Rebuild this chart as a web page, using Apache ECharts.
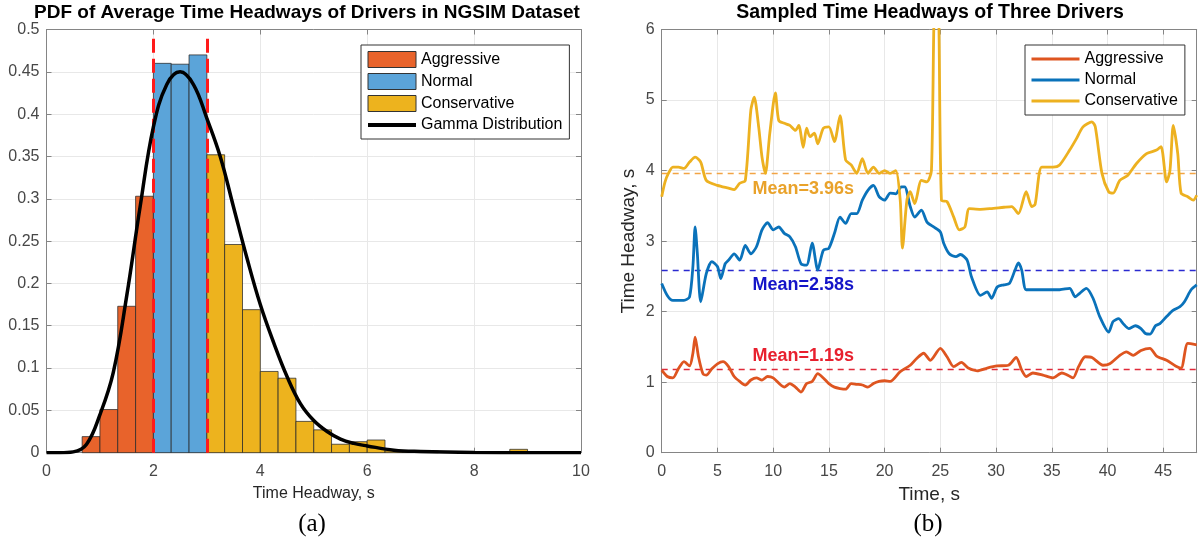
<!DOCTYPE html>
<html><head><meta charset="utf-8">
<script src="https://cdn.jsdelivr.net/npm/echarts@6/dist/echarts.min.js"></script>
<style>html,body{margin:0;padding:0;background:#fff}#c{width:1199px;height:550px}</style>
</head><body><div id="c"></div>
<script>
// ---------- (a) Histogram data ----------
const binLeft  = [0.667,1,1.333,1.667,2,2.333,2.667,3,3.333,3.667,4,4.333,4.667,5,5.333,5.667,6,6.333,6.667,7,8.667];
const binRight = [1,1.333,1.667,2,2.333,2.667,3,3.333,3.667,4,4.333,4.667,5,5.333,5.667,6,6.333,6.667,7,7.333,9];
const binDensity = [0.019,0.051,0.173,0.303,0.460,0.459,0.470,0.352,0.246,0.169,0.096,0.088,0.037,0.027,0.010,0.013,0.015,0.002,0.002,0.002,0.004];
const binClass = ['Aggressive','Aggressive','Aggressive','Aggressive','Normal','Normal','Normal',
  'Conservative','Conservative','Conservative','Conservative','Conservative','Conservative','Conservative',
  'Conservative','Conservative','Conservative','Conservative','Conservative','Conservative','Conservative'];
const classBounds = [2, 3];
const gammaX = [0,0.25,0.5,0.75,1.0,1.25,1.5,1.75,2.0,2.25,2.5,2.75,3.0,3.25,3.5,3.75,4.0,4.25,4.5,4.75,5.0,5.25,5.5,5.75,6.0,6.5,7,8,9,10];
const gammaY = [0,0,0.001,0.01,0.045,0.095,0.185,0.29,0.385,0.435,0.45,0.435,0.395,0.35,0.29,0.23,0.175,0.13,0.09,0.058,0.038,0.025,0.016,0.011,0.008,0.003,0.0015,0.0003,0,0];
const histXTicks = [0, 10, 2];
const histYTicks = [0, 0.5, 0.05];

// ---------- (b) Time series data ----------
const aggT = [0,0.5,1,1.5,2,2.5,2.8,3,3.3,3.7,4,4.5,5,5.5,6,6.5,7,7.5,8,8.5,9,9.5,10,11,11.5,12,12.5,13,13.5,14,14.5,15,15.5,16,16.5,17,17.5,18,18.5,19,19.5,20,20.5,21.4,22.3,22.9,23.5,24.1,25,25.6,26.2,26.9,27.5,28.3,29.2,30.1,31.1,31.8,32.3,32.7,33.3,34.2,35.1,35.9,36.3,36.9,37.4,38,38.6,39.6,40.2,41.1,41.7,42.3,43,43.8,44.4,45.3,46.1,46.6,47.2,48];
const aggV = [1.17,1.08,1.06,1.19,1.29,1.23,1.41,1.64,1.36,1.12,1.10,1.19,1.26,1.29,1.22,1.08,1.01,0.96,1.03,1.06,1.03,1.08,1.06,0.93,0.98,0.93,0.86,0.98,1.01,1.12,1.06,0.98,0.93,0.91,0.90,0.98,0.97,0.96,0.93,0.98,1.01,1.02,1.01,1.15,1.24,1.34,1.41,1.31,1.48,1.36,1.22,1.28,1.20,1.16,1.20,1.23,1.24,1.35,1.17,1.08,1.13,1.10,1.06,1.13,1.11,1.06,1.22,1.36,1.35,1.24,1.26,1.38,1.43,1.38,1.45,1.48,1.37,1.31,1.23,1.20,1.55,1.53];
const norT = [0,0.5,1,2,2.5,2.8,3,3.2,3.5,4,4.5,5,5.3,5.7,6,6.5,7,7.5,8,8.5,9,9.5,10,10.5,11,11.5,12,12.5,13,13.5,14,14.5,15,15.5,16,16.5,17,17.5,18,18.5,19,19.5,20,20.5,21,21.5,21.8,22.3,22.7,23.3,23.8,24.4,25,25.3,25.8,26.4,26.8,27.4,27.8,28.6,29.2,29.6,30.1,30.7,31.2,31.7,32,32.3,32.7,33.6,34.7,35.7,36.6,37.1,37.5,38.1,38.7,39.3,40.1,40.5,41,41.4,41.9,42.5,43,43.4,43.8,44.3,44.7,45.3,45.9,46.5,46.9,47.5,48];
const norV = [2.40,2.23,2.16,2.16,2.21,2.64,3.20,2.82,2.14,2.54,2.71,2.64,2.47,2.68,2.73,2.82,2.73,2.94,2.82,2.92,3.16,3.26,3.16,3.20,3.11,3.06,2.92,2.68,2.66,2.97,2.59,2.87,2.90,3.11,3.34,3.25,3.39,3.39,3.58,3.72,3.79,3.63,3.58,3.68,3.67,3.77,3.77,3.49,3.34,3.44,3.27,3.20,3.13,2.97,2.82,2.78,2.81,2.73,2.49,2.23,2.28,2.19,2.35,2.38,2.40,2.59,2.69,2.59,2.31,2.31,2.31,2.31,2.33,2.21,2.26,2.33,2.19,1.93,1.71,1.86,1.90,1.83,1.76,1.80,1.76,1.69,1.68,1.80,1.83,1.93,2.02,2.07,2.14,2.31,2.38];
const conT = [0,0.3,0.6,1,1.5,2,2.5,3,3.5,4,5,6,6.5,7,7.5,8,8.3,8.7,9,9.3,9.7,10.2,10.5,11,11.5,12,12.3,12.7,13,13.3,13.7,14,14.5,15,15.5,16,16.5,17,17.5,18,18.5,19,19.5,20,20.5,21,21.4,21.6,22,22.3,22.7,23.3,23.8,24.2,24.5,24.8,25.1,25.6,26.2,26.7,27.2,27.6,28.6,29.5,30.7,31.4,32,32.7,33.2,33.5,34.1,35.1,35.7,36.6,37.2,37.8,38.6,38.9,39.5,40.1,40.5,41.1,41.8,42.6,43.5,44.4,44.8,45.3,45.6,45.9,46.3,46.6,47.2,47.7,48];
const conV = [3.63,3.84,3.96,4.05,4.05,4.03,4.12,4.19,4.12,3.86,3.79,3.75,3.73,3.82,3.86,4.86,5.04,4.62,4.19,3.96,4.53,5.10,4.71,4.67,4.64,4.57,4.64,4.33,4.60,4.48,4.53,4.38,4.60,4.62,4.41,4.78,4.15,4.08,3.96,4.17,3.96,4.05,3.96,4.00,3.96,4.00,3.58,2.90,3.58,3.70,3.53,3.86,3.84,4.00,6.3,6.3,3.58,3.56,3.34,3.16,3.20,3.46,3.45,3.46,3.48,3.49,3.39,3.70,3.49,3.52,4.05,4.05,4.08,4.29,4.45,4.62,4.69,4.62,3.96,3.70,3.68,3.86,3.93,4.10,4.24,4.29,4.34,3.84,4.00,4.64,4.24,3.68,3.63,3.58,3.65];
const means = [1.19, 2.58, 3.96];
const seriesNames = ['Aggressive', 'Normal', 'Conservative'];
const tsXTicks = [0, 48, 5];
const tsYTicks = [0, 6, 1];

// ---------- styling ----------
const FONT = 'Liberation Sans, Arial, Helvetica, sans-serif';
const axisGray = '#858585';
const labelGray = '#474747';
const gridGray = '#e8e8e8';
const histColors = {Aggressive:'#E8632B', Normal:'#5BA4D9', Conservative:'#EDB31E'};
const lineColors = ['#DE5520', '#0A72BA', '#EDB120'];
const meanLineColors = ['#E02A3A', '#2A2AD0', '#F2A444'];
const meanTextColors = ['#E8202E', '#1414C8', '#E9A22A'];

function zip(a, b) { return a.map((v, i) => [v, b[i]]); }
function binsFor(cls) {
  const out = [];
  binLeft.forEach((l, i) => { if (binClass[i] === cls) out.push([l, binRight[i], binDensity[i]]); });
  return out;
}
function renderBar(params, api) {
  const p0 = api.coord([api.value(0), api.value(2)]);
  const p1 = api.coord([api.value(1), 0]);
  return { type: 'rect', shape: { x: p0[0], y: p0[1], width: p1[0] - p0[0], height: p1[1] - p0[1] }, style: api.style() };
}

function mkX(grid, ticks, pos, extra) {
  const main = pos === 'bottom';
  return Object.assign({
    gridIndex: grid, type: 'value', position: pos, min: ticks[0], max: ticks[1], interval: ticks[2],
    axisLine: { show: true, onZero: false, lineStyle: { color: axisGray, width: 1 } },
    axisTick: { show: true, inside: true, length: 5, lineStyle: { color: axisGray } },
    axisLabel: { show: main, color: labelGray, fontSize: 16, fontFamily: FONT, margin: 11 },
    splitLine: { show: main, lineStyle: { color: gridGray, width: 1 } }
  }, extra || {});
}
function mkY(grid, ticks, pos, extra) {
  const main = pos === 'left';
  return Object.assign({
    gridIndex: grid, type: 'value', position: pos, min: ticks[0], max: ticks[1], interval: ticks[2],
    axisLine: { show: true, onZero: false, lineStyle: { color: axisGray, width: 1 } },
    axisTick: { show: true, inside: true, length: 5, lineStyle: { color: axisGray } },
    axisLabel: { show: main, color: labelGray, fontSize: 16, fontFamily: FONT, margin: 7 },
    splitLine: { show: main, lineStyle: { color: gridGray, width: 1 } }
  }, extra || {});
}
const nameStyleA = { color: '#262626', fontSize: 16, fontFamily: FONT };
const nameStyleB = { color: '#262626', fontSize: 19, fontFamily: FONT };

const series = [];
seriesNames.forEach(cls => {
  const s = {
    name: cls, type: 'custom', xAxisIndex: 0, yAxisIndex: 0, z: 2,
    renderItem: renderBar, encode: { x: [0, 1], y: 2 },
    itemStyle: { color: histColors[cls], borderColor: 'rgba(40,40,40,0.75)', borderWidth: 1 },
    data: binsFor(cls), silent: true
  };
  if (cls === 'Normal') {
    s.markLine = {
      silent: true, symbol: 'none', z: 3,
      lineStyle: { color: '#FF1A1A', width: 3, type: [14, 6] },
      label: { show: false },
      data: classBounds.map(b => [{ coord: [b, 0] }, { coord: [b, 0.49] }])
    };
  }
  series.push(s);
});
series.push({
  name: 'Gamma Distribution', type: 'line', xAxisIndex: 0, yAxisIndex: 0, z: 5,
  data: zip(gammaX, gammaY), smooth: 0.4, symbol: 'none', showSymbol: false,
  lineStyle: { color: '#000', width: 3.5 }, itemStyle: { color: '#000' }, silent: true
});
const tsData = [zip(aggT, aggV), zip(norT, norV), zip(conT, conV)];
const labelY = [1.37, 2.38, 3.74];
seriesNames.forEach((n, i) => {
  series.push({
    name: 'b:' + n, type: 'line', xAxisIndex: 2, yAxisIndex: 2, z: 4,
    data: tsData[i], smooth: 0.25, symbol: 'none', showSymbol: false, clip: true,
    lineStyle: { color: lineColors[i], width: 2.8 }, itemStyle: { color: lineColors[i] }, silent: true,
    markLine: {
      silent: true, symbol: 'none', z: 3,
      lineStyle: { color: meanLineColors[i], width: 1.4, type: [6, 5] },
      label: { show: false },
      data: [{ yAxis: means[i] }]
    },
    markPoint: {
      silent: true, symbol: 'circle', symbolSize: 1, itemStyle: { color: 'transparent' },
      label: { show: true, position: 'right', distance: 0, color: meanTextColors[i], fontSize: 18, fontWeight: 'bold', fontFamily: FONT,
        formatter: 'Mean=' + means[i].toFixed(2) + 's' },
      data: [{ coord: [8.1, labelY[i]] }]
    }
  });
});

const legendBase = {
  orient: 'vertical', itemWidth: 48, itemHeight: 16, itemGap: 5,
  padding: [6, 7, 6, 5], borderColor: '#333', borderWidth: 1, backgroundColor: '#fff',
  selectedMode: false, textStyle: { fontSize: 16, color: '#000', fontFamily: FONT }
};

const option = {
  animation: false,
  backgroundColor: '#fff',
  grid: [
    { left: 46.5, right: 618, top: 29.5, bottom: 97.3, containLabel: false },
    { left: 661.7, right: 2.3, top: 29.5, bottom: 97.3, containLabel: false }
  ],
  xAxis: [
    mkX(0, histXTicks, 'bottom', { name: 'Time Headway, s', nameLocation: 'middle', nameGap: 33, nameTextStyle: nameStyleA }),
    mkX(0, histXTicks, 'top'),
    mkX(1, tsXTicks, 'bottom', { name: 'Time, s', nameLocation: 'middle', nameGap: 33, nameTextStyle: nameStyleB }),
    mkX(1, tsXTicks, 'top')
  ],
  yAxis: [
    mkY(0, histYTicks, 'left'),
    mkY(0, histYTicks, 'right'),
    mkY(1, tsYTicks, 'left', { name: 'Time Headway, s', nameLocation: 'middle', nameGap: 23, nameTextStyle: nameStyleB }),
    mkY(1, tsYTicks, 'right')
  ],
  legend: [
    Object.assign({}, legendBase, {
      left: 361, top: 45,
      data: seriesNames.map(n => ({ name: n, icon: 'rect', itemStyle: { color: histColors[n], borderColor: '#333', borderWidth: 1 } }))
        .concat([{ name: 'Gamma Distribution', itemStyle: { opacity: 0 }, lineStyle: { width: 4, color: '#000' } }])
    }),
    Object.assign({}, legendBase, {
      left: 1025, top: 45,
      formatter: n => n.replace('b:', ''),
      data: seriesNames.map((n, i) => ({ name: 'b:' + n, itemStyle: { opacity: 0 }, lineStyle: { width: 3, color: lineColors[i] } }))
    })
  ],
  graphic: [
    { type: 'text', x: 307, y: 13, style: { text: 'PDF of Average Time Headways of Drivers in NGSIM Dataset', font: 'bold 19px ' + FONT, fill: '#000', align: 'center', verticalAlign: 'middle' } },
    { type: 'text', x: 930, y: 13, style: { text: 'Sampled Time Headways of Three Drivers', font: 'bold 19.5px ' + FONT, fill: '#000', align: 'center', verticalAlign: 'middle' } },
    { type: 'text', x: 312, y: 524, style: { text: '(a)', font: '25px Liberation Serif, Times New Roman, serif', fill: '#000', align: 'center', verticalAlign: 'middle' } },
    { type: 'text', x: 928, y: 524, style: { text: '(b)', font: '25px Liberation Serif, Times New Roman, serif', fill: '#000', align: 'center', verticalAlign: 'middle' } }
  ],
  series: series
};
option.xAxis[2].axisLabel.showMaxLabel = false;
const chart = echarts.init(document.getElementById('c'));
chart.setOption(option);
</script></body></html>
